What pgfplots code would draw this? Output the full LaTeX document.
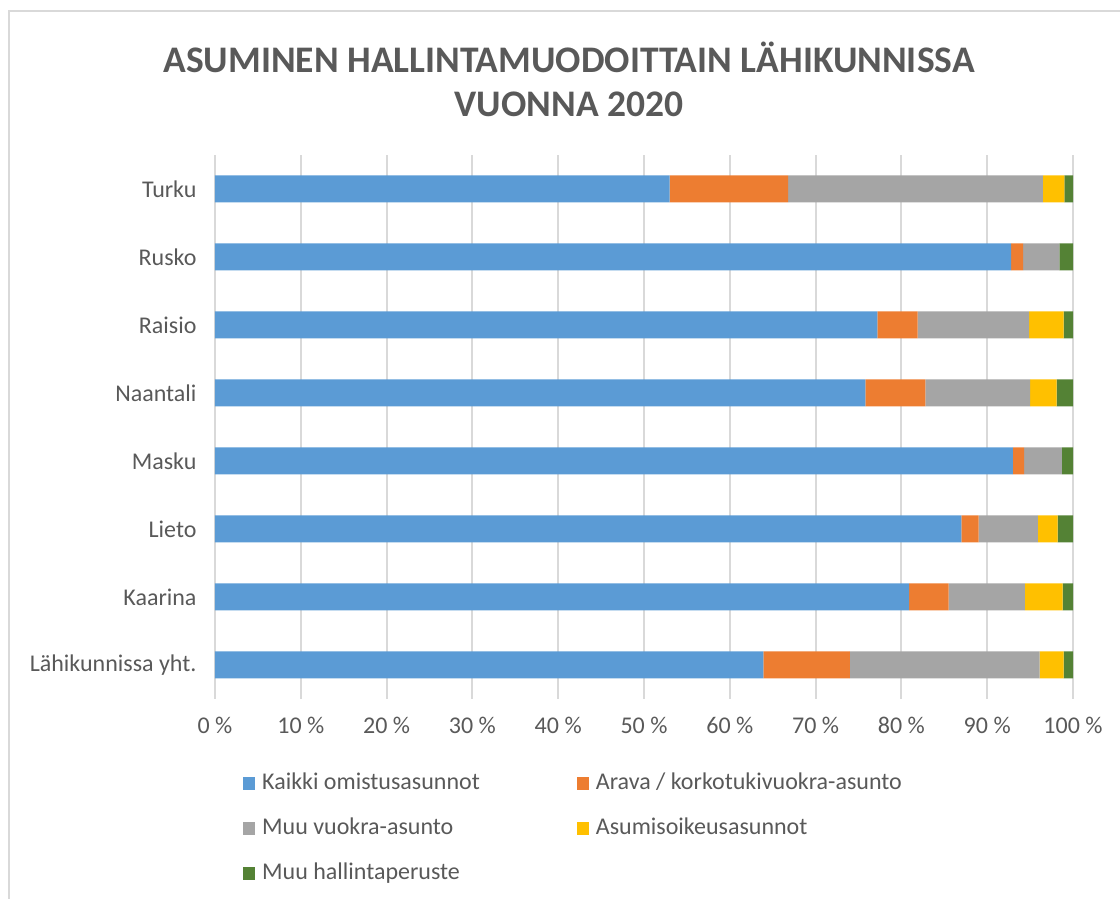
\documentclass[border=0pt]{standalone}
\usepackage{pgfplots}
\pgfplotsset{compat=1.18}
\usepackage{pgfplotstable}
\usepackage{fontspec}
\setmainfont{Carlito}
\definecolor{cblue}{HTML}{5B9BD5}
\definecolor{corange}{HTML}{ED7D31}
\definecolor{cgray}{HTML}{A5A5A5}
\definecolor{cyellow}{HTML}{FFC000}
\definecolor{cgreen}{HTML}{548235}
\definecolor{txt}{HTML}{595959}
\definecolor{gridc}{HTML}{D9D9D9}
\pgfplotstableread{
y own arava muu aso other
0 63.9 10.1 22.1 2.8 1.1
1 80.9 4.6 8.9 4.4 1.2
2 87.0 2.0 6.9 2.3 1.8
3 93.0 1.3 4.4 0.0 1.3
4 75.8 7.0 12.2 3.1 1.9
5 77.2 4.7 13.0 4.0 1.1
6 92.8 1.4 4.2 0.0 1.6
7 53.0 13.8 29.7 2.5 1.0
}\datatable
\begin{document}
\begin{tikzpicture}[x=1pt,y=1pt]
\path[use as bounding box] (0,0) rectangle (1120,899);
\draw[gridc, line width=2pt] (9,-10) -- (9,888) -- (1130,888);
\node[font=\fontsize{37.5}{44}\selectfont\bfseries, text=txt, align=center] at (569,820) {ASUMINEN HALLINTAMUODOITTAIN LÄHIKUNNISSA\\VUONNA 2020};
\begin{axis}[
  at={(215pt,200pt)}, anchor=south west,
  scale only axis, width=858pt, height=544pt,
  xbar stacked, bar width=27pt,
  xmin=0, xmax=100, ymin=-0.5, ymax=7.5,
  xtick={0,10,...,100},
  ytick={0,...,7},
  yticklabels={Lähikunnissa yht.,Kaarina,Lieto,Masku,Naantali,Raisio,Rusko,Turku},
  xticklabel={\pgfmathprintnumber{\tick} \%},
  /pgf/number format/assume math mode=true,
  axis line style={draw=none},
  major tick length=0pt,
  xmajorgrids, grid style={gridc, line width=2pt},
  ticklabel style={font=\fontsize{24}{29}\selectfont, text=txt},
  xticklabel style={yshift=-15pt},
  yticklabel style={xshift=-15pt},
  legend columns=2,
  legend cell align=left,
  legend image code/.code={\fill[#1] (0pt,-6.5pt) rectangle (12pt,6.5pt);},
  legend style={draw=none, fill=none, at={(0.0326,-0.134)}, anchor=north west,
    inner sep=0pt, column sep=7pt, row sep=23pt,
    font=\fontsize{24}{29}\selectfont, text=txt,
    nodes={inner sep=0pt, text height=17pt, text depth=5pt},
    /tikz/every even column/.append style={column sep=97pt}},
]
\addplot[fill=cblue, draw=none] table[x=own, y=y] {\datatable};
\addplot[fill=corange, draw=none] table[x=arava, y=y] {\datatable};
\addplot[fill=cgray, draw=none] table[x=muu, y=y] {\datatable};
\addplot[fill=cyellow, draw=none] table[x=aso, y=y] {\datatable};
\addplot[fill=cgreen, draw=none] table[x=other, y=y] {\datatable};
\legend{Kaikki omistusasunnot, Arava / korkotukivuokra-asunto, Muu vuokra-asunto, Asumisoikeusasunnot, Muu hallintaperuste}
\end{axis}
\end{tikzpicture}
\end{document}
